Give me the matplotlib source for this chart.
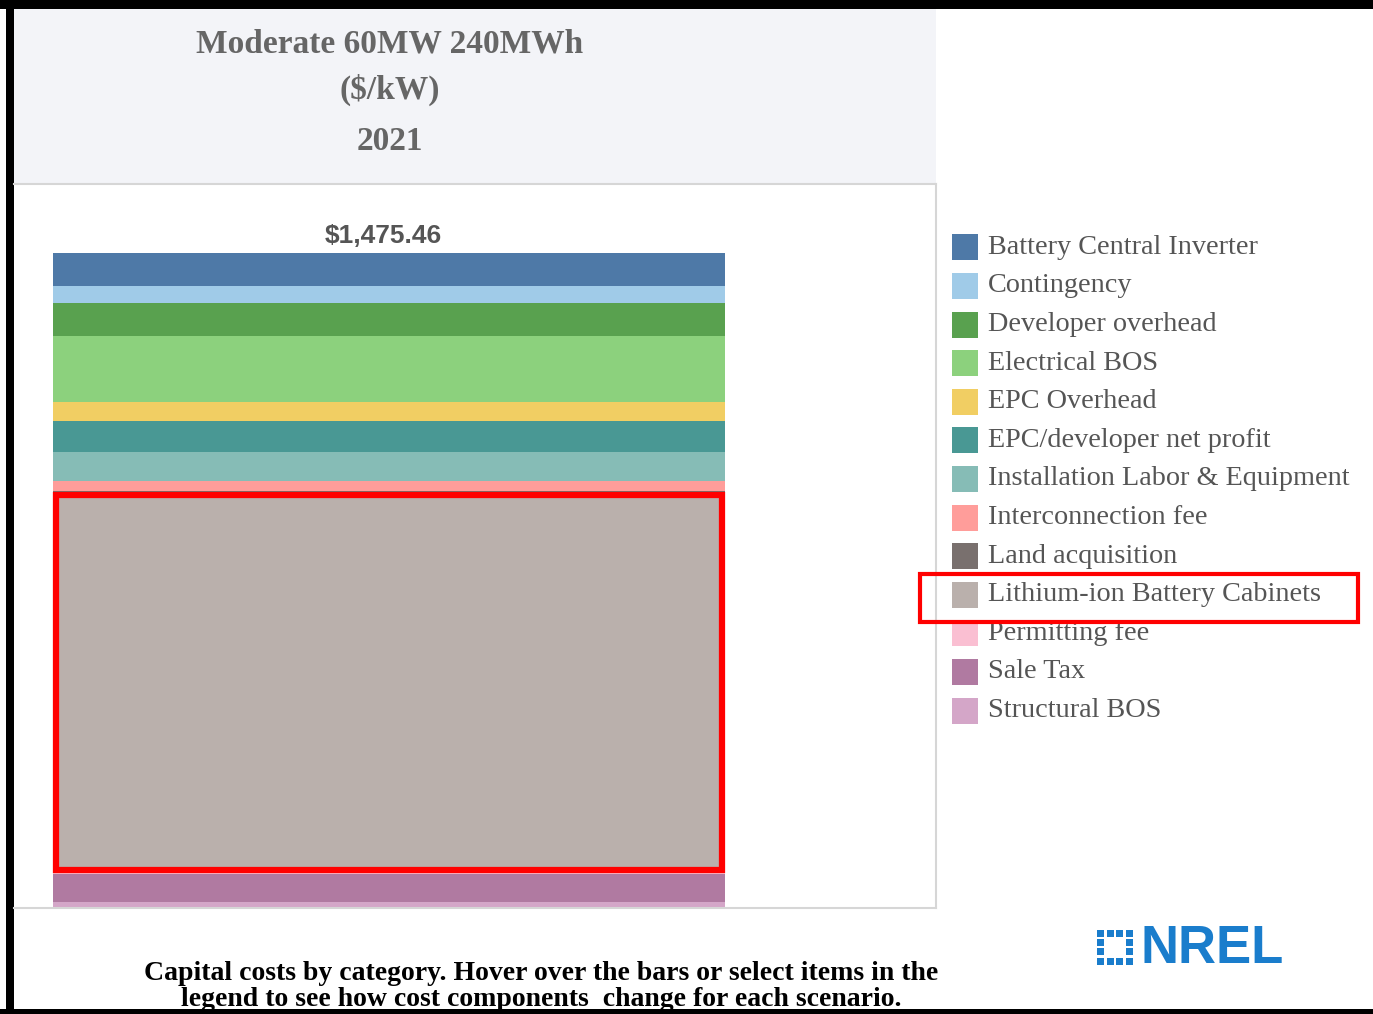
import matplotlib
matplotlib.use('Agg')
import matplotlib.pyplot as plt
from matplotlib.patches import Rectangle
import numpy as np

# Capital cost components, top of the stack first ($/kW)
componentes = [
    'Battery Central Inverter', 'Contingency', 'Developer overhead', 'Electrical BOS',
    'EPC Overhead', 'EPC/developer net profit', 'Installation Labor & Equipment',
    'Interconnection fee', 'Land acquisition', 'Lithium-ion Battery Cabinets',
    'Permitting fee', 'Sale Tax', 'Structural BOS',
]
costos = [75.10, 39.05, 73.60, 148.00, 43.50, 69.10, 66.00,
          22.50, 1.20, 859.00, 0.80, 64.60, 13.01]
colores = ['#4e79a7', '#a0cbe8', '#59a14f', '#8cd17d', '#f1ce63', '#499894', '#86bcb6',
           '#ff9d9a', '#79706e', '#bab0ac', '#fabfd2', '#b07aa1', '#d4a6c8']
resaltado = 'Lithium-ion Battery Cabinets'

titulo = ['Moderate 60MW 240MWh', '($/kW)', '2021']
nota = ['Capital costs by category. Hover over the bars or select items in the',
        'legend to see how cost components  change for each scenario.']

W, H = 1373, 1014
fig = plt.figure(figsize=(W / 100, H / 100), dpi=100)
fig.patch.set_facecolor('white')

# fondo en coordenadas de pixel
fondo = fig.add_axes([0, 0, 1, 1], zorder=0)
fondo.set_xlim(0, W)
fondo.set_ylim(H, 0)
fondo.axis('off')

fondo.add_patch(Rectangle((14, 9), 922, 175, facecolor='#f3f4f8', edgecolor='none'))
# bordes negros
fondo.add_patch(Rectangle((0, 0), W, 9, facecolor='black', edgecolor='none'))
fondo.add_patch(Rectangle((6, 0), 8, H, facecolor='black', edgecolor='none'))
fondo.add_patch(Rectangle((0, 1009), W, 5, facecolor='black', edgecolor='none'))

for txt, y in zip(titulo, [44, 90, 141]):
    fondo.text(390, y, txt, ha='center', va='center', fontsize=24, fontweight='bold',
               family='Liberation Serif', color='#666666')

for txt, y in zip(nota, [974, 1000]):
    fondo.text(541, y, txt, ha='center', va='center', fontsize=20, fontweight='bold',
               family='Liberation Serif', color='black')

# leyenda
y0, paso = 247.3, 38.6
for i, (nom, col) in enumerate(zip(componentes, colores)):
    y = y0 + i * paso
    fondo.add_patch(Rectangle((952, y - 13), 26, 26, facecolor=col, edgecolor='none'))
    fondo.text(988, y, nom, ha='left', va='center', fontsize=20.3,
               family='Liberation Serif', color='#555555')

# logo
azul = '#1a7dcc'
fondo.text(1141, 949, 'NREL', ha='left', va='center', fontsize=38, fontweight='bold',
           family='Liberation Sans', color=azul)
for cx, cy in [(0, 0), (1, 0), (2, 0), (3, 0), (0, 1), (3, 1), (0, 2), (3, 2),
               (0, 3), (1, 3), (2, 3), (3, 3)]:
    fondo.add_patch(Rectangle((1097 + cx * 9.5, 930 + cy * 9.2), 7, 7,
                              facecolor=azul, edgecolor='none'))

# barra apilada
ax = fig.add_axes([14 / W, 1 - 908 / H, 922 / W, 724 / H], zorder=1)
ax.patch.set_visible(False)
ancho = 0.8
escala_x = 672 / ancho
x_min = -ancho / 2 - 39 / escala_x
ax.set_xlim(x_min, x_min + 922 / escala_x)
total = float(np.sum(costos))
y_max = total * 724 / 655.3
ax.set_ylim(0, y_max)

base = 0.0
limites = {}
for nom, val, col in reversed(list(zip(componentes, costos, colores))):
    ax.bar(0, val, width=ancho, bottom=base, color=col, edgecolor='none')
    limites[nom] = (base, base + val)
    base += val

ax.text(-0.007, total + 37, f'${total:,.2f}', ha='center', va='center', fontsize=19,
        fontweight='bold', family='Liberation Sans', color='#555555')

# recuadro rojo sobre el segmento resaltado
inf, sup = limites[resaltado]
px_y = y_max / 724
px_x = 1 / escala_x
ax.add_patch(Rectangle((-ancho / 2 + 3 * px_x, inf + 3 * px_y), ancho - 6 * px_x,
                       sup - inf - 6 * px_y, facecolor='none', edgecolor='#ff0000',
                       linewidth=4.5))

ax.set_xticks([])
ax.set_yticks([])
for lado in ['top', 'right', 'bottom']:
    ax.spines[lado].set_color('#d6d6d6')
    ax.spines[lado].set_linewidth(1.5)
ax.spines['left'].set_visible(False)

# recuadro rojo en la leyenda, por encima del resto
frente = fig.add_axes([0, 0, 1, 1], zorder=2)
frente.set_xlim(0, W)
frente.set_ylim(H, 0)
frente.axis('off')
y_res = y0 + componentes.index(resaltado) * paso
frente.add_patch(Rectangle((920, y_res - 21), 438, 48, facecolor='none',
                           edgecolor='#ff0000', linewidth=3))

fig.savefig('out.png', dpi=100, facecolor='white')
